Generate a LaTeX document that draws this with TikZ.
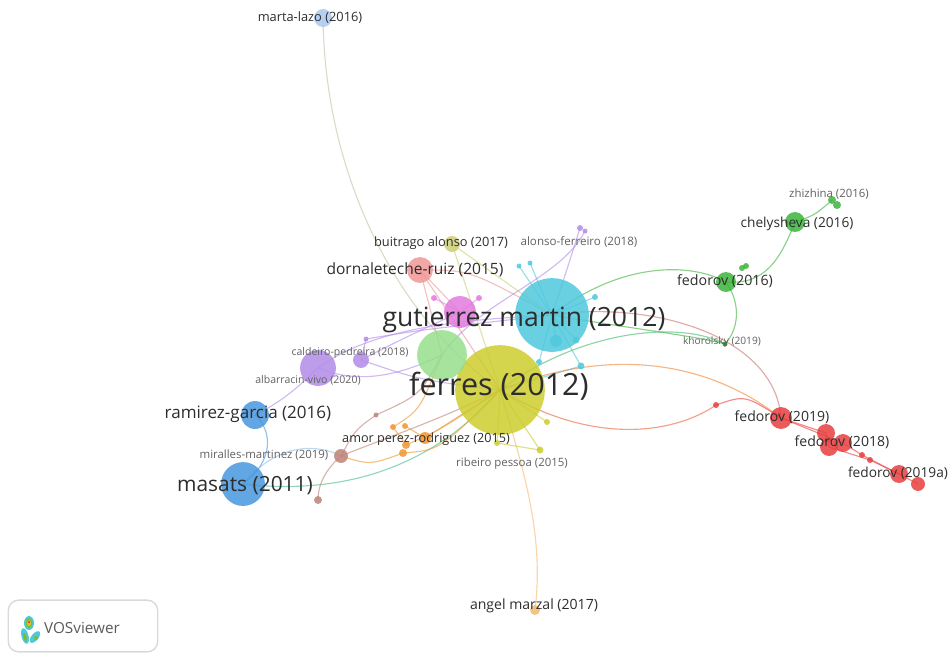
\documentclass[tikz,border=0pt]{standalone}
\usepackage{fontspec}
\setmainfont{Open Sans}
\usetikzlibrary{positioning}
\pgfdeclarelayer{bg}
\pgfsetlayers{bg,main}
\definecolor{yel}{RGB}{204,204,46}
\definecolor{cya}{RGB}{78,200,220}
\definecolor{lgr}{RGB}{150,222,140}
\definecolor{mag}{RGB}{226,122,222}
\definecolor{sal}{RGB}{240,150,150}
\definecolor{oli}{RGB}{205,205,120}
\definecolor{blu}{RGB}{70,150,222}
\definecolor{pur}{RGB}{178,140,232}
\definecolor{lbl}{RGB}{170,200,240}
\definecolor{brn}{RGB}{190,130,120}
\definecolor{org}{RGB}{240,150,50}
\definecolor{lor}{RGB}{245,185,110}
\definecolor{grn}{RGB}{60,180,60}
\definecolor{rd}{RGB}{232,62,62}
\definecolor{txt}{RGB}{45,45,45}
\tikzset{bub/.style={circle, inner sep=0pt, minimum size=#1*0.567pt, fill opacity=0.85}}
\tikzset{tag/.style={text=txt, inner sep=0pt, font=\fontsize{#1}{#1}\selectfont}}
\tikzset{link/.style={line width=0.65pt, draw opacity=0.6}}

\begin{document}
\begin{tikzpicture}[x=0.02cm, y=-0.02cm]
  \useasboundingbox (0,0) rectangle (949,654);

  % nodes
  \node[bub=90, fill=yel] (ferres) at (500,390) {};
  \node[bub=74, fill=cya] (gutierrez) at (552,315) {};
  \node[bub=50, fill=lgr] (lgreen) at (442,355) {};
  \node[bub=32, fill=mag] (pink) at (460,312) {};
  \node[bub=26, fill=sal] (dornal) at (420,270) {};
  \node[bub=16, fill=oli] (buitrago) at (452,244) {};
  \node[bub=18, fill=lbl] (marta) at (323,18) {};
  \node[bub=16, fill=pur] (caldeiro) at (361,360) {};
  \node[bub=36, fill=pur] (albarracin) at (318,368) {};
  \node[bub=28, fill=blu] (ramirez) at (255,415) {};
  \node[bub=14, fill=brn] (miralles) at (341,456) {};
  \node[bub=44, fill=blu] (masats) at (243,484) {};
  \node[bub=8, fill=brn] (brnA) at (318,500) {};
  \node[bub=5, fill=brn] (brnB) at (376,415) {};
  \node[bub=12, fill=org] (amorA) at (425,438) {};
  \node[bub=8, fill=org] (amorB) at (406,445) {};
  \node[bub=8, fill=org] (amorC) at (403,453) {};
  \node[bub=6, fill=org] (amorD) at (393,427) {};
  \node[bub=6, fill=org] (amorE) at (405,426) {};
  \node[bub=7, fill=yel] (ribA) at (540,450) {};
  \node[bub=6, fill=yel] (ribB) at (547,422) {};
  \node[bub=6, fill=yel] (ribC) at (497,443) {};
  \node[bub=10, fill=lor] (angel) at (535,610) {};
  \node[bub=12, fill=cya] (cyaA) at (556,341) {};
  \node[bub=7, fill=cya] (cyaB) at (576,340) {};
  \node[bub=7, fill=cya] (cyaC) at (581,366) {};
  \node[bub=6, fill=cya] (cyaD) at (539,362) {};
  \node[bub=5, fill=cya] (cyaE) at (519,266) {};
  \node[bub=5, fill=cya] (cyaF) at (530,263) {};
  \node[bub=6, fill=cya] (cyaG) at (595,297) {};
  \node[bub=6, fill=pur] (alonsoA) at (580,228) {};
  \node[bub=5, fill=pur] (alonsoB) at (585,231) {};
  \node[bub=5, fill=pur] (purA) at (366,339) {};
  \node[bub=6, fill=mag] (pinkA) at (434,298) {};
  \node[bub=6, fill=mag] (pinkB) at (479,298) {};
  \node[bub=20, fill=grn] (chelysheva) at (795,222) {};
  \node[bub=8, fill=grn] (zhizhinaA) at (832,200) {};
  \node[bub=8, fill=grn] (zhizhinaB) at (837,205) {};
  \node[bub=20, fill=grn] (fedorovS) at (726,282) {};
  \node[bub=6, fill=grn] (grnA) at (742,268) {};
  \node[bub=6, fill=grn] (grnB) at (746,266) {};
  \node[bub=5, fill=grn!70!black] (khorolsky) at (725,344) {};
  \node[bub=22, fill=rd] (fedorovN) at (781,418) {};
  \node[bub=18, fill=rd] (fedorovEa) at (826,433) {};
  \node[bub=18, fill=rd] (fedorovEb) at (829,447) {};
  \node[bub=18, fill=rd] (fedorovEc) at (843,443) {};
  \node[bub=6, fill=rd] (redA) at (862,455) {};
  \node[bub=6, fill=rd] (redB) at (870,460) {};
  \node[bub=18, fill=rd] (fedorovA) at (899,474) {};
  \node[bub=14, fill=rd] (fedorovAb) at (918,484) {};
  \node[bub=6, fill=rd] (redC) at (716,405) {};

  % links
  \begin{pgfonlayer}{bg}
    \draw[link, lbl!60!yel] (marta.center) .. controls (325,180) and (400,320) .. (ferres.center);
    \draw[link, lor] (angel.center) .. controls (545,530) and (520,460) .. (ferres.center);
    \draw[link, yel] (ferres.center) -- (ribA.center);
    \draw[link, yel] (ferres.center) -- (ribB.center);
    \draw[link, yel] (ferres.center) -- (ribC.center);
    \draw[link, yel] (ribC.center) -- (ribA.center);
    \draw[link, blu] (masats.center) .. controls (275,460) and (272,430) .. (ramirez.center);
    \draw[link, cya!50!grn] (masats.center) .. controls (340,495) and (430,470) .. (ferres.center);
    \draw[link, blu!60] (masats.center) .. controls (280,440) and (320,445) .. (miralles.center);
    \draw[link, pur] (ramirez.center) .. controls (285,400) and (300,385) .. (albarracin.center);
    \draw[link, pur] (albarracin.center) .. controls (360,385) and (400,375) .. (lgreen.center);
    \draw[link, pur] (albarracin.center) .. controls (370,330) and (450,320) .. (gutierrez.center);
    \draw[link, pur] (caldeiro.center) .. controls (400,340) .. (pink.center);
    \draw[link, pur] (caldeiro.center) -- (purA.center);
    \draw[link, pur] (purA.center) .. controls (420,330) .. (gutierrez.center);
    \draw[link, pur] (caldeiro.center) .. controls (420,380) .. (ferres.center);
    \draw[link, brn] (miralles.center) .. controls (380,440) and (440,420) .. (ferres.center);
    \draw[link, brn] (miralles.center) .. controls (325,470) and (318,485) .. (brnA.center);
    \draw[link, brn] (miralles.center) .. controls (355,430) .. (brnB.center);
    \draw[link, brn] (brnB.center) .. controls (420,395) .. (lgreen.center);
    \draw[link, org] (miralles.center) .. controls (370,465) .. (amorC.center);
    \draw[link, org] (amorA.center) -- (ferres.center);
    \draw[link, org] (amorB.center) .. controls (440,430) .. (ferres.center);
    \draw[link, org] (amorC.center) .. controls (440,450) .. (ferres.center);
    \draw[link, org] (amorD.center) .. controls (420,410) .. (lgreen.center);
    \draw[link, org] (amorE.center) -- (amorA.center);
    \draw[link, org] (amorD.center) -- (amorB.center);
    \draw[link, sal] (dornal.center) -- (lgreen.center);
    \draw[link, sal] (dornal.center) -- (ferres.center);
    \draw[link, sal] (dornal.center) -- (pink.center);
    \draw[link, sal] (dornal.center) .. controls (470,270) .. (gutierrez.center);
    \draw[link, oli] (buitrago.center) -- (ferres.center);
    \draw[link, oli] (buitrago.center) -- (gutierrez.center);
    \draw[link, mag] (pinkA.center) -- (pink.center);
    \draw[link, mag] (pinkB.center) -- (pink.center);
    \draw[link, cya] (cyaA.center) -- (gutierrez.center);
    \draw[link, cya] (cyaB.center) -- (gutierrez.center);
    \draw[link, cya] (cyaC.center) -- (gutierrez.center);
    \draw[link, cya] (cyaD.center) -- (gutierrez.center);
    \draw[link, cya] (cyaE.center) -- (gutierrez.center);
    \draw[link, cya] (cyaF.center) -- (gutierrez.center);
    \draw[link, cya] (cyaG.center) -- (gutierrez.center);
    \draw[link, cya] (cyaC.center) -- (ferres.center);
    \draw[link, pur] (alonsoA.center) .. controls (570,260) .. (gutierrez.center);
    \draw[link, pur] (alonsoB.center) .. controls (560,280) and (480,300) .. (lgreen.center);
    \draw[link, grn] (gutierrez.center) .. controls (620,262) and (690,262) .. (fedorovS.center);
    \draw[link, grn] (fedorovS.center) .. controls (765,285) and (780,260) .. (chelysheva.center);
    \draw[link, grn] (chelysheva.center) .. controls (815,215) .. (zhizhinaA.center);
    \draw[link, grn] (fedorovS.center) .. controls (742,305) and (738,330) .. (khorolsky.center);
    \draw[link, grn] (gutierrez.center) .. controls (640,330) and (690,335) .. (khorolsky.center);
    \draw[link, grn!70!cya] (ferres.center) .. controls (580,330) and (680,320) .. (khorolsky.center);
    \draw[link, brn!80!rd] (gutierrez.center) .. controls (650,300) and (775,335) .. (fedorovN.center);
    \draw[link, org!80!rd] (ferres.center) .. controls (600,350) and (700,355) .. (fedorovN.center);
    \draw[link, rd!60!org] (ferres.center) .. controls (600,450) and (680,430) .. (redC.center);
    \draw[link, rd] (redC.center) .. controls (745,395) .. (fedorovN.center);
    \draw[link, rd] (fedorovN.center) -- (fedorovEa.center);
    \draw[link, rd] (fedorovN.center) -- (fedorovEc.center);
    \draw[link, rd] (fedorovEa.center) -- (fedorovEb.center);
    \draw[link, rd] (fedorovEc.center) -- (redA.center);
    \draw[link, rd] (fedorovEb.center) -- (redB.center);
    \draw[link, rd] (redA.center) -- (fedorovA.center);
    \draw[link, rd] (redB.center) -- (fedorovA.center);
    \draw[link, rd] (fedorovA.center) -- (fedorovAb.center);
  \end{pgfonlayer}

  % labels
  \node[tag=17.4] (ferresL) at (499,386) {ferres (2012)};
  \node[tag=15.1] (gutierrezL) at (524,320) {gutierrez martin (2012)};
  \node[tag=8.85] (dornalL) at (415,270) {dornaleteche-ruiz (2015)};
  \node[tag=7.3] (buitragoL) at (441,243) {buitrago alonso (2017)};
  \node[tag=6.6, text=txt!75] (alonsoL) at (579,242) {alonso-ferreiro (2018)};
  \node[tag=7.3] (martaL) at (310,18) {marta-lazo (2016)};
  \node[tag=6, text=txt!75] (caldeiroL) at (350,353) {caldeiro-pedreira (2018)};
  \node[tag=6, text=txt!75] (albarracinL) at (308,380) {albarracin-vivo (2020)};
  \node[tag=9.7] (ramirezL) at (248,414) {ramirez-garcia (2016)};
  \node[tag=6.5, text=txt!75] (mirallesL) at (264,455) {miralles-martinez (2019)};
  \node[tag=11.9] (masatsL) at (245,486) {masats (2011)};
  \node[tag=7.2] (amorL) at (426,439) {amor perez-rodriguez (2015)};
  \node[tag=6.5, text=txt!75] (ribeiroL) at (512,464) {ribeiro pessoa (2015)};
  \node[tag=8] (angelL) at (534,606) {angel marzal (2017)};
  \node[tag=7.8] (chelyshevaL) at (797,224) {chelysheva (2016)};
  \node[tag=6.5, text=txt!75] (zhizhinaL) at (829,194) {zhizhina (2016)};
  \node[tag=8.1] (fedorovSL) at (725,281) {fedorov (2016)};
  \node[tag=5.8, text=txt!75] (khorolskyL) at (722,342) {khorolsky (2019)};
  \node[tag=8] (fedorovNL) at (782,417) {fedorov (2019)};
  \node[tag=8] (fedorovEL) at (842,442) {fedorov (2018)};
  \node[tag=7.8] (fedorovAL) at (898,473) {fedorov (2019a)};

  % logo
  \node[draw=black!15, rounded corners=6pt, line width=0.8pt, minimum width=150*0.567pt,
        minimum height=52*0.567pt, inner sep=0pt] (logo) at (83,626) {};
  \fill[cya] (29,623) ellipse (5 and 7);
  \fill[cya, rotate around={15:(25,636)}] (25,636) ellipse (3.5 and 8);
  \fill[cya, rotate around={-40:(35,637)}] (35,637) ellipse (3.5 and 7);
  \fill[grn!60!yel] (29,623) ellipse (3.5 and 5);
  \fill[grn!60!yel, rotate around={15:(25,637)}] (25,637) ellipse (1.6 and 4.5);
  \fill[grn!60!yel] (36,638) ellipse (2 and 2);
  \fill[yel!80!org] (29,623) ellipse (2.2 and 3.2);
  \fill[rd] (29,622) circle (1.4);
  \node[tag=8.7, text=black!65] (logoL) at (82,628) {VOSviewer};
\end{tikzpicture}
\end{document}
